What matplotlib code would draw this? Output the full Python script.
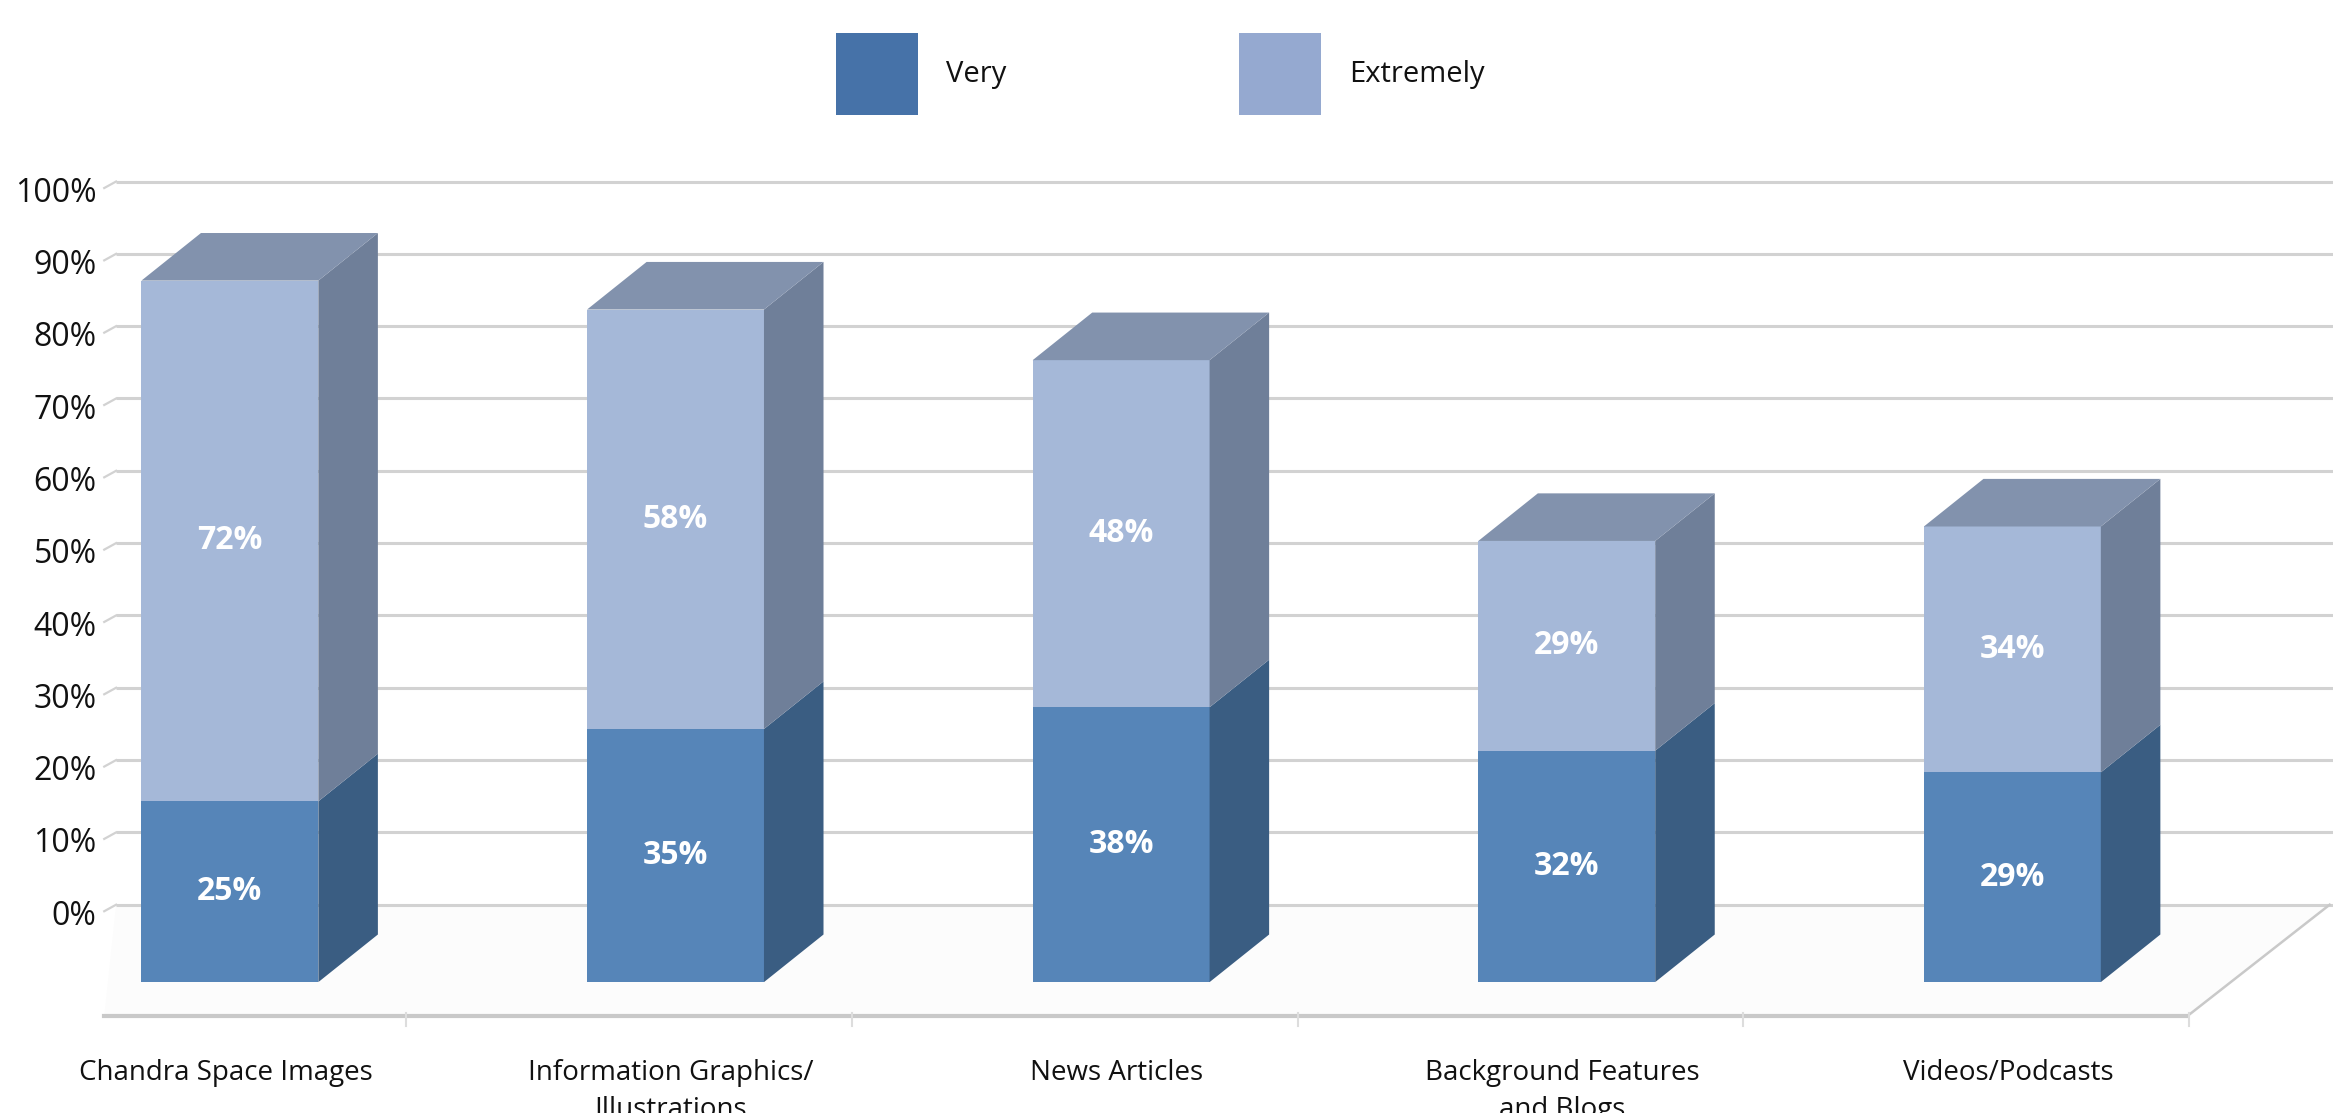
import matplotlib
matplotlib.use("Agg")
import matplotlib.pyplot as plt
from matplotlib.patches import Polygon, Rectangle

# ---------------- data ----------------
categories = ["Chandra Space Images", "Information Graphics/\nIllustrations",
              "News Articles", "Background Features\nand Blogs", "Videos/Podcasts"]
series_names = ["Very", "Extremely"]
very = [25, 35, 38, 32, 29]
extremely = [72, 58, 48, 29, 34]
yticks = [0, 10, 20, 30, 40, 50, 60, 70, 80, 90, 100]
ytick_labels = [f"{v}%" for v in yticks]

# ---------------- style ----------------
plt.rcParams['font.family'] = ['Open Sans', 'DejaVu Sans']
front_cols = ["#5685b8", "#a5b8d8"]
side_cols = ["#3a5d82", "#6f7f99"]
top_cols = ["#4f6f95", "#8292ad"]
legend_cols = ["#4672a8", "#95a9d0"]
grid_col = "#d2d2d2"

fig = plt.figure(figsize=(23.33, 11.13), dpi=100)
ax = fig.add_axes([0, 0, 1, 1])
ax.set_xlim(-0.5159, 4.7195)
ax.set_ylim(-18.1, 135.8)
ax.axis('off')

W = 0.397          # bar front width (category units)
DX, DY = 0.1336, 6.58   # bar depth offset
BACK = 10.7        # back wall vertical offset (in % units)
WALL_L = -0.2554
FLOOR_L = -0.282
FLOOR_R = 4.392
FLOOR_Y = -4.73

# floor
ax.add_patch(Polygon([(FLOOR_L, FLOOR_Y), (FLOOR_R, FLOOR_Y), (FLOOR_R + 0.32, BACK),
                      (WALL_L, BACK)], closed=True, facecolor="#fcfcfc",
                     edgecolor="none", zorder=0))

# back wall gridlines + left wall ticks + y labels
for v, lab in zip(yticks, ytick_labels):
    y = v + BACK
    ax.plot([WALL_L, 4.75], [y, y], color=grid_col, lw=2.2, zorder=1,
            solid_capstyle='butt')
    ax.plot([FLOOR_L, WALL_L], [y - 0.9, y], color=grid_col, lw=1.6, zorder=1)
    ax.text(-0.299, y - 1.6, lab, ha='right', va='center', fontsize=23,
            color="#111111")

# floor front edge + right diagonal
ax.plot([FLOOR_L, FLOOR_R], [FLOOR_Y, FLOOR_Y], color="#c9c9c9", lw=3, zorder=1)
ax.plot([FLOOR_R, FLOOR_R + 0.32], [FLOOR_Y, BACK], color="#c9c9c9", lw=1.8, zorder=1)
for i in range(len(categories)):
    xt = i + 0.396
    ax.plot([xt, xt], [FLOOR_Y + 0.4, FLOOR_Y - 1.3], color="#dddddd", lw=1.5, zorder=1)


def draw_box(c, y0, y1, k, z):
    x0, x1 = c - W / 2, c + W / 2
    ax.add_patch(Polygon([(x0, y0), (x1, y0), (x1, y1), (x0, y1)], closed=True,
                         facecolor=front_cols[k], edgecolor='none', zorder=z))
    ax.add_patch(Polygon([(x1, y0), (x1 + DX, y0 + DY), (x1 + DX, y1 + DY), (x1, y1)],
                         closed=True, facecolor=side_cols[k], edgecolor='none', zorder=z))


for i, (a, b) in enumerate(zip(very, extremely)):
    c = i
    draw_box(c, 0, a, 0, 3)
    draw_box(c, a, a + b, 1, 3)
    top = a + b
    x0, x1 = c - W / 2, c + W / 2
    ax.add_patch(Polygon([(x0, top), (x1, top), (x1 + DX, top + DY), (x0 + DX, top + DY)],
                         closed=True, facecolor=top_cols[1], edgecolor='none', zorder=4))
    ax.text(c, a / 2, f"{a}%", ha='center', va='center', fontsize=23,
            fontweight='bold', color='white', zorder=5)
    ax.text(c, a + b / 2, f"{b}%", ha='center', va='center', fontsize=23,
            fontweight='bold', color='white', zorder=5)
    ax.text(c - 0.01, -10.6, categories[i], ha='center', va='top', fontsize=20,
            color="#111111", linespacing=1.45,
            transform=ax.transData)

# legend (manual swatches)
leg_x = [0.3583, 0.5311]
for k, name in enumerate(series_names):
    ax.add_patch(Rectangle((leg_x[k], 0.8967), 0.0351, 0.0737, transform=ax.transAxes,
                           facecolor=legend_cols[k], edgecolor='none'))
    ax.text(leg_x[k] + 0.0472, 0.9335, name, transform=ax.transAxes, ha='left',
            va='center', fontsize=21, color="#111111")

fig.savefig("out.png", dpi=100)
